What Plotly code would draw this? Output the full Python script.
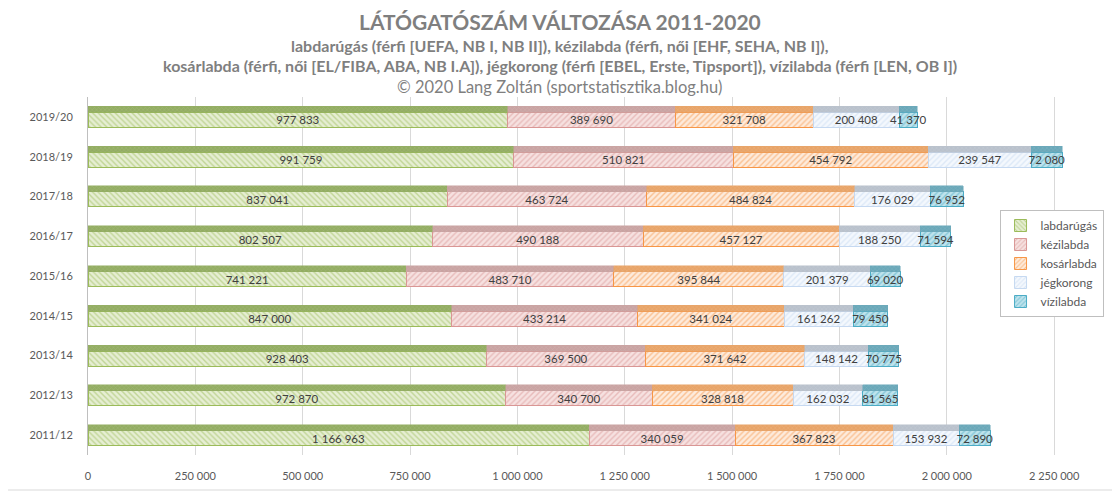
import plotly.graph_objects as go

seasons = ["2019/20", "2018/19", "2017/18", "2016/17", "2015/16",
           "2014/15", "2013/14", "2012/13", "2011/12"]
labdarugas = [977833, 991759, 837041, 802507, 741221, 847000, 928403, 972870, 1166963]
kezilabda = [389690, 510821, 463724, 490188, 483710, 433214, 369500, 340700, 340059]
kosarlabda = [321708, 454792, 484824, 457127, 395844, 341024, 371642, 328818, 367823]
jegkorong = [200408, 239547, 176029, 188250, 201379, 161262, 148142, 162032, 153932]
vizilabda = [41370, 72080, 76952, 71594, 69020, 79450, 70775, 81565, 72890]
tick_vals = [0, 250000, 500000, 750000, 1000000, 1250000, 1500000, 1750000, 2000000, 2250000]

# name, values, face background, hatch/line colour, hatch shape, top-face colour
series = [
    ("labdarúgás", labdarugas, "#e6eed3", "#9bbb59", "\\", "#93ad62"),
    ("kézilabda", kezilabda, "#f6e1e0", "#d99694", "/", "#c9a3a2"),
    ("kosárlabda", kosarlabda, "#fdebdc", "#f79646", "/", "#e8a468"),
    ("jégkorong", jegkorong, "#f4f8fd", "#c6d9f1", "/", "#b9c1cc"),
    ("vízilabda", vizilabda, "#bfe3ec", "#4bacc6", "/", "#6aa8b9"),
]

FONT = "Lato"
OFF = 8  # browser body margin
W, H = 1120 - OFF, 491 - OFF
# plot area in image pixels
L_IMG, T_IMG, B_IMG = 88, 97, 455
XMAX = 2280000
PX_PER_UNIT = 107.4 / 250000
R_IMG = L_IMG + XMAX * PX_PER_UNIT
ml, mt = L_IMG - OFF, T_IMG - OFF
mb = H - (B_IMG - OFF)
mr = W - (R_IMG - OFF)
pw, ph = W - ml - mr, H - mt - mb

def py(img_y):
    return (B_IMG - img_y) / ph

def pxx(img_x):
    return (img_x - L_IMG) / pw

# bar geometry in category units (spacing 1 category = ph/9 px)
cat_px = ph / len(seasons)
top_h = 6 / cat_px
front_h = 15 / cat_px
half = (top_h + front_h) / 2

fig = go.Figure()
for name, vals, bg, fg, shp, topc in series:
    fig.add_trace(go.Bar(
        name=name, y=seasons, x=vals, orientation="h",
        legendgroup=name, yaxis="y",
        width=front_h, offset=-half + top_h,
        marker=dict(color=bg, line=dict(color=fg, width=1),
                    pattern=dict(shape=shp, fgcolor=fg, size=4, solidity=0.35, fillmode="overlay")),
        texttemplate="%{x:,d}", textposition="inside", insidetextanchor="middle",
        constraintext="none", cliponaxis=False,
        textfont=dict(family=FONT, size=11.5, color="#404040"),
        hovertemplate="%{y}: %{x:,d}<extra>" + name + "</extra>",
    ))
for name, vals, bg, fg, shp, topc in series:
    fig.add_trace(go.Bar(
        name=name, y=seasons, x=vals, orientation="h",
        legendgroup=name, showlegend=False, yaxis="y2",
        width=top_h, offset=-half,
        marker=dict(color=topc, line=dict(color=topc, width=0.5),
                    pattern=dict(shape="x", fgcolor="rgba(255,255,255,0.25)", size=3, solidity=0.3,
                                 fillmode="overlay")),
        hoverinfo="skip",
    ))

annotations = [
    ("<b>LÁTÓGATÓSZÁM VÁLTOZÁSA 2011-2020</b>", 22, 21),
    ("<b>labdarúgás (férfi [UEFA, NB I, NB II]), kézilabda (férfi, női [EHF, SEHA, NB I]),</b>", 45, 16),
    ("<b>kosárlabda (férfi, női [EL/FIBA, ABA, NB I.A]), jégkorong (férfi [EBEL, Erste, Tipsport]), vízilabda (férfi [LEN, OB I])</b>", 66, 16),
    ("© 2020 Lang Zoltán (sportstatisztika.blog.hu)", 87, 16.5),
]
ann = []
for text, yimg, size in annotations:
    ann.append(dict(text=text, xref="paper", yref="paper",
                    x=pxx(1120 / 2), y=py(yimg), xanchor="center", yanchor="middle",
                    showarrow=False, font=dict(family=FONT, size=size, color="#7f7f7f")))

yrange = [len(seasons) - 0.5, -0.5]
fig.update_layout(
    width=W, height=H, barmode="stack",
    margin=dict(l=ml, r=mr, t=mt, b=mb, autoexpand=False),
    paper_bgcolor="white", plot_bgcolor="white",
    separators=", ",
    font=dict(family=FONT, color="#595959"),
    annotations=ann,
    showlegend=True,
    legend=dict(x=pxx(1000), y=py(210), xanchor="left", yanchor="top",
                traceorder="normal", bgcolor="white", bordercolor="#bfbfbf", borderwidth=1,
                tracegroupgap=4, itemwidth=30,
                font=dict(family=FONT, size=12, color="#595959")),
    xaxis=dict(range=[0, XMAX], tickvals=tick_vals, tickformat=",d",
               showgrid=True, gridcolor="#d9d9d9", gridwidth=1, zeroline=False,
               ticks="outside", ticklen=11, tickcolor="rgba(0,0,0,0)", automargin=False,
               tickfont=dict(family=FONT, size=11, color="#595959"), showline=False),
    yaxis=dict(range=yrange, type="category", categoryorder="array", categoryarray=seasons,
               showline=True, linecolor="#bfbfbf", linewidth=1, automargin=False,
               ticks="outside", ticklen=12, tickcolor="rgba(0,0,0,0)",
               tickfont=dict(family=FONT, size=11, color="#595959")),
    yaxis2=dict(range=yrange, type="category", categoryorder="array", categoryarray=seasons,
                overlaying="y", showticklabels=False, showgrid=False, showline=False,
                automargin=False),
    shapes=[
        dict(type="line", xref="paper", yref="paper",
             x0=(W - 1 - ml) / pw, x1=(W - 1 - ml) / pw, y0=-mb / ph, y1=1 + mt / ph,
             line=dict(color="#d9d9d9", width=1)),
        dict(type="line", xref="paper", yref="paper",
             x0=-ml / pw, x1=(W - ml) / pw, y0=-(mb - 1) / ph, y1=-(mb - 1) / ph,
             line=dict(color="#d9d9d9", width=1)),
    ],
)

fig.write_html("out.html")
